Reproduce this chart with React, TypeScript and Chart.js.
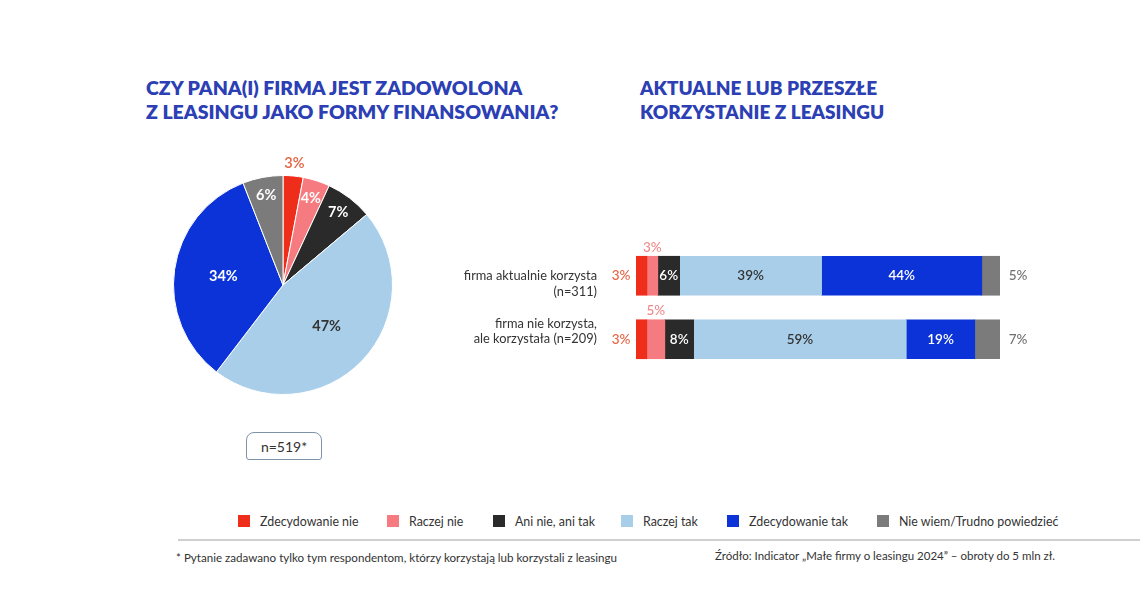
import React, { useEffect, useRef } from 'react';
import { Chart, registerables } from 'chart.js';

Chart.register(...registerables);

// ---------- data ----------
const categories = [
  'Zdecydowanie nie',
  'Raczej nie',
  'Ani nie, ani tak',
  'Raczej tak',
  'Zdecydowanie tak',
  'Nie wiem/Trudno powiedzieć',
];
const pieValues = [3, 4, 7, 47, 34, 6];
const pieNote = 'n=519*';
const barRowLabels = [
  ['firma aktualnie korzysta', '(n=311)'],
  ['firma nie korzysta,', 'ale korzystała (n=209)'],
];
const currentUsers = [3, 3, 6, 39, 44, 5];
const formerUsers = [3, 5, 8, 59, 19, 7];
const pieTitle = ['CZY PANA(I) FIRMA JEST ZADOWOLONA', 'Z LEASINGU JAKO FORMY FINANSOWANIA?'];
const barTitle = ['AKTUALNE LUB PRZESZŁE', 'KORZYSTANIE Z LEASINGU'];
const footnote = '* Pytanie zadawano tylko tym respondentom, którzy korzystają lub korzystali z leasingu';
const source = 'Źródło: Indicator „Małe firmy o leasingu 2024” – obroty do 5 mln zł.';

// ---------- styles ----------
const colors = ['#ef2d1b', '#f67b80', '#2a2a2a', '#a9cee9', '#0b33d8', '#7b7b7b'];
const FONT = 'Lato, "Open Sans", sans-serif';
const TITLE_COLOR = '#2c3fb4';
const TEXT = '#333333';
const OUT_RED = '#e4623f';
const OUT_PINK = '#f08a8c';
const OUT_GRAY = '#6f6f6f';

function PieChart() {
  const ref = useRef<HTMLCanvasElement>(null);
  useEffect(() => {
    const labelPlugin = {
      id: 'pieLabels',
      afterDatasetsDraw(chart: any) {
        const ctx = chart.ctx;
        const meta = chart.getDatasetMeta(0);
        meta.data.forEach((arc: any, i: number) => {
          const v = pieValues[i];
          const p = arc.getProps(['x', 'y', 'startAngle', 'endAngle', 'outerRadius'], true);
          const mid = (p.startAngle + p.endAngle) / 2;
          const outside = v <= 3;
          const f = outside ? 1.12 : v < 10 ? 0.83 : 0.55;
          const r = p.outerRadius * f;
          ctx.save();
          ctx.font = `${outside ? 600 : 700} 14.5px ${FONT}`;
          ctx.fillStyle = outside ? OUT_RED : i === 3 ? TEXT : '#ffffff';
          ctx.textAlign = 'center';
          ctx.textBaseline = 'middle';
          ctx.fillText(`${v}%`, p.x + Math.cos(mid) * r, p.y + Math.sin(mid) * r);
          ctx.restore();
        });
      },
    };
    const chart = new Chart(ref.current as HTMLCanvasElement, {
      type: 'pie',
      data: {
        labels: categories,
        datasets: [
          {
            data: pieValues,
            backgroundColor: colors,
            borderColor: '#ffffff',
            borderWidth: 1,
          },
        ],
      },
      options: {
        responsive: false,
        animation: false,
        layout: { padding: 20 },
        plugins: { legend: { display: false }, tooltip: { enabled: false } },
      },
      plugins: [labelPlugin],
    });
    return () => chart.destroy();
  }, []);
  return (
    <canvas
      ref={ref}
      width={260}
      height={260}
      style={{ position: 'absolute', left: 153, top: 155, width: 260, height: 260 }}
    />
  );
}

function BarChart() {
  const ref = useRef<HTMLCanvasElement>(null);
  useEffect(() => {
    const rows = [currentUsers, formerUsers];
    const sums = rows.map((r) => r.reduce((a, b) => a + b, 0));
    const labelPlugin = {
      id: 'barLabels',
      afterDatasetsDraw(chart: any) {
        const ctx = chart.ctx;
        ctx.save();
        ctx.textBaseline = 'middle';
        chart.data.datasets.forEach((_ds: any, i: number) => {
          const meta = chart.getDatasetMeta(i);
          meta.data.forEach((bar: any, j: number) => {
            const p = bar.getProps(['x', 'y', 'base', 'height'], true);
            const v = rows[j][i];
            const txt = `${v}%`;
            ctx.textAlign = 'center';
            if (i === 0) {
              ctx.font = `500 13.5px ${FONT}`;
              ctx.fillStyle = OUT_RED;
              ctx.fillText(txt, p.base - 15, p.y);
            } else if (i === 1) {
              ctx.font = `500 13.5px ${FONT}`;
              ctx.fillStyle = OUT_PINK;
              ctx.fillText(txt, (p.base + p.x) / 2, p.y - p.height / 2 - 9);
            } else if (i === 5) {
              ctx.font = `500 13.5px ${FONT}`;
              ctx.fillStyle = OUT_GRAY;
              ctx.fillText(txt, p.x + 18, p.y);
            } else {
              ctx.font = `600 13.5px ${FONT}`;
              ctx.fillStyle = i === 3 ? TEXT : '#ffffff';
              ctx.fillText(txt, (p.base + p.x) / 2, p.y);
            }
          });
        });
        // category labels
        const yScale = chart.scales.y;
        const offsets = [[0, 16], [-15, 0]];
        ctx.font = `400 12.8px ${FONT}`;
        ctx.fillStyle = TEXT;
        ctx.textAlign = 'right';
        barRowLabels.forEach((lines, j) => {
          const cy = yScale.getPixelForValue(j);
          lines.forEach((line, k) => {
            ctx.fillText(line, chart.chartArea.left - 39, cy + offsets[j][k]);
          });
        });
        ctx.restore();
      },
    };
    const chart = new Chart(ref.current as HTMLCanvasElement, {
      type: 'bar',
      data: {
        labels: barRowLabels.map((l) => l.join(' ')),
        datasets: categories.map((c, i) => ({
          label: c,
          data: rows.map((r, j) => (r[i] * 100) / sums[j]),
          backgroundColor: colors[i],
          borderWidth: 0,
          barThickness: 39,
        })),
      },
      options: {
        indexAxis: 'y',
        responsive: false,
        animation: false,
        layout: { padding: { left: 196, right: 60, top: 24, bottom: 19 } },
        scales: {
          x: { stacked: true, min: 0, max: 100, display: false },
          y: { stacked: true, display: false },
        },
        plugins: { legend: { display: false }, tooltip: { enabled: false } },
      },
      plugins: [labelPlugin],
    });
    return () => chart.destroy();
  }, []);
  return (
    <canvas
      ref={ref}
      width={620}
      height={170}
      style={{ position: 'absolute', left: 440, top: 220, width: 620, height: 170 }}
    />
  );
}

const legendX = [238, 387, 493, 621, 727, 877];

export default function App() {
  const titleStyle: React.CSSProperties = {
    position: 'absolute',
    fontFamily: FONT,
    fontWeight: 800,
    fontSize: 19.5,
    lineHeight: '24px',
    color: TITLE_COLOR,
    whiteSpace: 'nowrap',
    margin: 0,
  };
  return (
    <div
      style={{
        position: 'fixed',
        left: 0,
        top: 0,
        width: 1140,
        height: 594,
        background: '#ffffff',
        overflow: 'hidden',
        fontFamily: FONT,
      }}
    >
      <div style={{ ...titleStyle, left: 146, top: 76 }}>
        {pieTitle[0]}
        <br />
        {pieTitle[1]}
      </div>
      <div style={{ ...titleStyle, left: 640, top: 76, fontSize: 19 }}>
        {barTitle[0]}
        <br />
        {barTitle[1]}
      </div>
      <PieChart />
      <BarChart />
      <div
        style={{
          position: 'absolute',
          left: 246,
          top: 432,
          width: 74,
          height: 26,
          border: '1.5px solid #7f93a8',
          borderRadius: '8px 8px 3px 3px',
          display: 'flex',
          alignItems: 'center',
          justifyContent: 'center',
          fontSize: 14,
          color: TEXT,
        }}
      >
        {pieNote}
      </div>
      {categories.map((c, i) => (
        <div
          key={c}
          style={{
            position: 'absolute',
            left: legendX[i],
            top: 513,
            height: 16,
            display: 'flex',
            alignItems: 'center',
            whiteSpace: 'nowrap',
            fontSize: 12.4,
            color: TEXT,
          }}
        >
          <span
            style={{ display: 'inline-block', width: 12, height: 12, background: colors[i], marginRight: 10 }}
          />
          {c}
        </div>
      ))}
      <div
        style={{ position: 'absolute', left: 178, top: 539, width: 962, height: 2, background: '#cfcfcf' }}
      />
      <div
        style={{ position: 'absolute', left: 176, top: 551, fontSize: 11.6, color: TEXT, whiteSpace: 'nowrap' }}
      >
        {footnote}
      </div>
      <div
        style={{ position: 'absolute', left: 715, top: 549, fontSize: 11.5, color: TEXT, whiteSpace: 'nowrap' }}
      >
        {source}
      </div>
    </div>
  );
}
